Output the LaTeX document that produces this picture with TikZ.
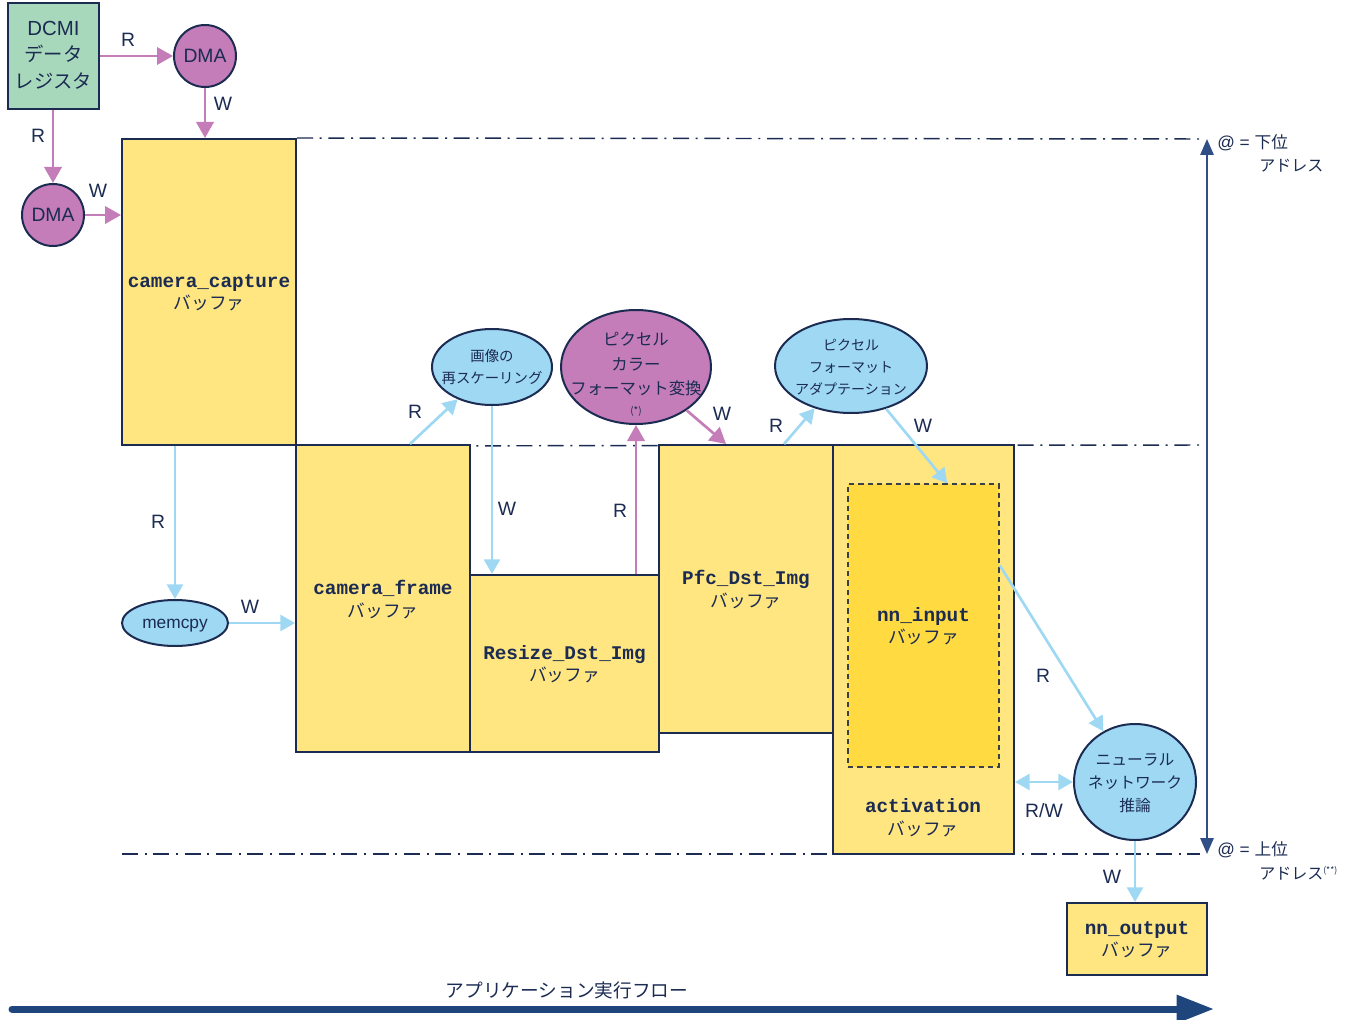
\documentclass[tikz,border=0pt]{standalone}
\usepackage{fontspec}
\setmainfont{Liberation Sans}
\newfontfamily\jp{Noto Sans CJK JP}
\newfontfamily\mono{Liberation Mono}
\usetikzlibrary{arrows.meta,shapes.geometric,fit,calc}

\definecolor{navy}{HTML}{1B2B52}
\definecolor{addrblue}{HTML}{2F4F86}
\definecolor{flowblue}{HTML}{1F467C}
\definecolor{bufyellow}{HTML}{FFE680}
\definecolor{nnyellow}{HTML}{FFDA40}
\definecolor{dcmigreen}{HTML}{A8D8BC}
\definecolor{purp}{HTML}{C47DB8}
\definecolor{lblue}{HTML}{9ED8F3}
\definecolor{dashgrey}{HTML}{3A3F4A}

% buffer caption: monospace name over the Japanese word "buffer"
\newcommand{\bufcap}[1]{{\mono\bfseries #1}\\{\jp\fontsize{13.3}{17}\selectfont バッファ}}

\begin{document}
\begin{tikzpicture}[x=0.75pt,y=-0.75pt,
  every node/.style={text=navy},
  buf/.style={draw=navy,line width=1.5pt,fill=bufyellow,inner sep=0pt},
  bufname/.style={label={[align=center,font=\fontsize{14.5}{17}\selectfont,yshift=-0.6pt]center:\bufcap{#1}}},
  dma/.style={circle,draw=navy,line width=1.5pt,fill=purp,inner sep=0pt,
    minimum size=46.5pt,font=\fontsize{14.5}{17}\selectfont},
  proc/.style={ellipse,draw=navy,line width=1.5pt,inner sep=0pt},
  lbl/.style={font=\fontsize{14.5}{17}\selectfont,inner sep=0pt},
  parr/.style={draw=purp,line width=2pt,-{Triangle[length=12pt,width=13pt]}},
  barr/.style={draw=lblue,line width=2pt,-{Triangle[length=11pt,width=12pt]}},
  dd/.style={draw=navy,line width=1.1pt,dash pattern=on 12pt off 5pt on 1.5pt off 5pt},
  addr/.style={draw=addrblue,line width=1.5pt,
    {Triangle[length=12pt,width=10pt]}-{Triangle[length=12pt,width=10pt]}},
  flow/.style={draw=flowblue,line width=5.25pt,line cap=round,
    -{Triangle[length=28pt,width=20pt]}}
]
\useasboundingbox (0,0) rectangle (1353,1020);

% ---- address boundaries (dash-dot) ----
\coordinate (hiR) at (1200,139);
\coordinate (midR) at (1200,445);
\coordinate (lowL) at (122,854);
\coordinate (lowR) at (1200,854);

% ---- buffers ----
\node[buf,fit={(122,139) (296,445)},bufname={camera\_capture}] (cap) {};
\draw[dd] (cap.north east) -- (hiR);
\draw[dd] (cap.south east) -- (midR);
\draw[dd] (lowL) -- (lowR);
\node[buf,fit={(296,445) (470,752)},bufname={camera\_frame}] (frame) {};
\node[buf,fit={(470,575) (659,752)},bufname={Resize\_Dst\_Img}] (resize) {};
\node[buf,fit={(659,445) (833,733)},bufname={Pfc\_Dst\_Img}] (pfc) {};
\node[buf,fit={(833,445) (1014,854)}] (act) {};
\node[align=center,font=\fontsize{14.5}{17}\selectfont] (acttext) at (923,818) {\bufcap{activation}};
\node[buf,fill=nnyellow,draw=dashgrey,dash pattern=on 4pt off 3pt,line width=1.1pt,
  fit={(848,484) (999,767)},bufname={nn\_input}] (nnin) {};
\node[buf,fit={(1067,903) (1207,975)},bufname={nn\_output}] (nnout) {};

% ---- DCMI and DMA ----
\node[buf,fill=dcmigreen,fit={(8,3) (99,109)},
  label={[align=center,font=\fontsize{15.3}{20}\selectfont,yshift=0.6pt]center:DCMI\\{\jp\fontsize{14.5}{20}\selectfont データ}\\{\jp\fontsize{14.5}{20}\selectfont レジスタ}}]
  (dcmi) {};
\node[dma] (dma1) at (205,56) {DMA};
\node[dma] (dma2) at (53,215) {DMA};

% ---- processing steps ----
\node[proc,fill=lblue,minimum width=79.5pt,minimum height=34.5pt,
  label={[font=\fontsize{13}{15}\selectfont,yshift=-2.2pt]center:memcpy}] (memcpy) at (175,623) {};
\node[proc,fill=lblue,minimum width=90pt,minimum height=57pt,
  label={[align=center,font=\jp\fontsize{10.8}{17}\selectfont]center:画像の\\再スケーリング}]
  (rescale) at (492,367) {};
\node[proc,fill=purp,minimum width=112.5pt,minimum height=85.5pt,
  label={[align=center,font=\jp\fontsize{12.3}{18.5}\selectfont,yshift=-5.5pt]center:ピクセル\\カラー\\フォーマット変換\\[-4pt]{\fontsize{7.5}{8}\selectfont (*)}}]
  (pfcconv) at (636,367) {};
\node[proc,fill=lblue,minimum width=114pt,minimum height=70.5pt,
  label={[align=center,font=\jp\fontsize{10.5}{16.5}\selectfont,yshift=-0.8pt]center:ピクセル\\フォーマット\\アダプテーション}]
  (adapt) at (851,366) {};
\node[proc,fill=lblue,minimum width=91.5pt,minimum height=87pt,
  label={[align=center,font=\jp\fontsize{11.8}{17.5}\selectfont,yshift=-0.8pt]center:ニューラル\\ネットワーク\\推論}]
  (nn) at (1135,782) {};

% ---- data movements ----
\draw[parr] (dcmi) -- (dma1);
\draw[parr] (dma1) -- (dma1 |- cap.north);
\draw[parr] (dcmi.south -| dma2) -- (dma2);
\draw[parr] (dma2) -- (dma2 -| cap.west);
\draw[barr] (memcpy |- cap.south) -- (memcpy);
\draw[barr] (memcpy) -- (memcpy -| frame.west);
\draw[barr] ($(frame.north)+(27,0)$) -- (rescale);
\draw[barr] (rescale) -- (rescale |- resize.north);
\draw[parr] (pfcconv |- resize.north) -- (pfcconv);
\draw[parr] (pfcconv) -- ($(pfc.north west)+(68,0)$);
\draw[barr] ($(pfc.north west)+(126,0)$) -- (adapt);
\draw[barr] (adapt) -- ($(nnin.north west)+(100,0)$);
\draw[barr] ($(nnin.north east)+(0,82)$) -- (nn);
\draw[draw=lblue,line width=2pt,{Triangle[length=11pt,width=12pt]}-{Triangle[length=11pt,width=12pt]}]
  (nn -| act.east) -- (nn);
\draw[barr] (nn) -- (nn |- nnout.north);

% ---- access labels ----
\node[lbl] (lR1) at (128,40) {R};
\node[lbl] (lW1) at (223,104) {W};
\node[lbl] (lR2) at (38,136) {R};
\node[lbl] (lW2) at (98,191) {W};
\node[lbl] (lR3) at (158,522) {R};
\node[lbl] (lW3) at (250,607) {W};
\node[lbl] (lR4) at (415,412) {R};
\node[lbl] (lW4) at (507,509) {W};
\node[lbl] (lR5) at (620,511) {R};
\node[lbl] (lW5) at (722,414) {W};
\node[lbl] (lR6) at (776,426) {R};
\node[lbl] (lW6) at (923,426) {W};
\node[lbl] (lR7) at (1043,676) {R};
\node[lbl] (lRW) at (1044,811) {R/W};
\node[lbl] (lW7) at (1112,877) {W};

% ---- address axis ----
\coordinate (addrtop) at (1207,139);
\coordinate (addrbot) at (1207,854);
\draw[addr] (addrbot) -- (addrtop);
\node[anchor=west,inner sep=0pt,font=\fontsize{13}{15}\selectfont] (lowaddr1) at (1217,143)
  {@ = {\jp\fontsize{12.5}{15}\selectfont 下位}};
\node[anchor=west,inner sep=0pt,font=\jp\fontsize{12}{15}\selectfont] (lowaddr2) at (1259,166) {アドレス};
\node[anchor=west,inner sep=0pt,font=\fontsize{13}{15}\selectfont] (highaddr1) at (1217,850)
  {@ = {\jp\fontsize{12.5}{15}\selectfont 上位}};
\node[anchor=west,inner sep=0pt,font=\jp\fontsize{12}{15}\selectfont] (highaddr2) at (1259,873)
  {アドレス\raisebox{0.7ex}{\fontsize{6.5}{8}\selectfont (**)}};

% ---- application flow ----
\coordinate (flowstart) at (12,1009);
\coordinate (flowend) at (1214,1009);
\draw[flow] (flowstart) -- (flowend);
\node[font=\jp\fontsize{14}{16}\selectfont] (flowlbl) at (567,990) {アプリケーション実行フロー};

\end{tikzpicture}
\end{document}
